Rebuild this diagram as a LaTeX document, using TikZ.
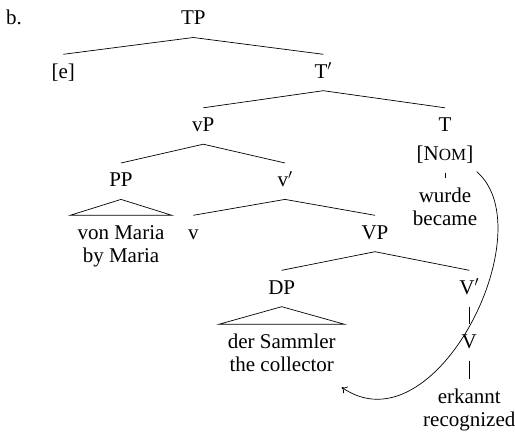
\documentclass[tikz,border=0pt]{standalone}
\usepackage{fontspec}
\setmainfont{Liberation Serif}
\usetikzlibrary{arrows.meta}
\tikzset{
  lbl/.style={inner sep=0pt, anchor=base, text height=23.5pt, text depth=12.5pt, font=\fontsize{21}{23}\selectfont},
  br/.style={line width=0.7pt},
  mv/.style={line width=0.7pt, -{To[length=5pt,width=8pt]}}
}
\begin{document}
\begin{tikzpicture}[x=1pt,y=-1pt]
\useasboundingbox (0,0) rectangle (515,434);
\node[lbl, anchor=base west] (b) at (6,24.5) {b.};
\node[lbl] (TP) at (193.3,24.8) {TP};
\node[lbl] (e) at (63.3,78) {[e]};
\node[lbl] (Tbar) at (323.3,78) {T$'$};
\node[lbl] (vP) at (203.3,131.5) {vP};
\node[lbl] (T) at (445,131.5) {T};
\node[lbl] (nom) at (445,160) {[N{\fontsize{17}{18}\selectfont OM}]};
\node[lbl] (PP) at (121,186.7) {PP};
\node[lbl] (vbar) at (285,186.7) {v$'$};
\node[lbl] (wurde) at (445,202) {wurde};
\node[lbl] (became) at (445,225) {became};
\node[lbl] (vonMaria) at (121,239) {von Maria};
\node[lbl] (byMaria) at (121,262) {by Maria};
\node[lbl] (v) at (193.3,239) {v};
\node[lbl] (VP) at (375,239) {VP};
\node[lbl] (DP) at (281.7,294) {DP};
\node[lbl] (Vbar) at (469.3,294) {V$'$};
\node[lbl] (sammler) at (281.7,348) {der Sammler};
\node[lbl] (collector) at (281.7,371) {the collector};
\node[lbl] (V) at (469.3,348) {V};
\node[lbl] (erkannt) at (469.3,403) {erkannt};
\node[lbl] (recognized) at (469.3,426) {recognized};
% branches
\draw[br] (e.north) -- (TP.south) -- (Tbar.north);
\draw[br] (vP.north) -- (Tbar.south) -- (T.north);
\draw[br] (PP.north) -- (vP.south) -- (vbar.north);
\draw[br] (v.north) -- (vbar.south) -- (VP.north);
\draw[br] (DP.north) -- (VP.south) -- (Vbar.north);
\draw[br] (nom.south) -- (wurde.north);
\draw[br] (Vbar.south) -- (V.north);
\draw[br] (V.south) -- (erkannt.north);
% triangles
\draw[br] (PP.south) -- ([xshift=-50.8pt]vonMaria.north) -- ([xshift=50.8pt]vonMaria.north) -- cycle;
\draw[br] (DP.south) -- ([xshift=-62.9pt]sammler.north) -- ([xshift=62.9pt]sammler.north) -- cycle;
% movement
\coordinate (cstart) at (476.7,171.7);
\coordinate (cend) at (341.7,387.3);
\draw[mv] (cstart) .. controls (545,230) and (435,452) .. (cend);
\end{tikzpicture}
\end{document}
